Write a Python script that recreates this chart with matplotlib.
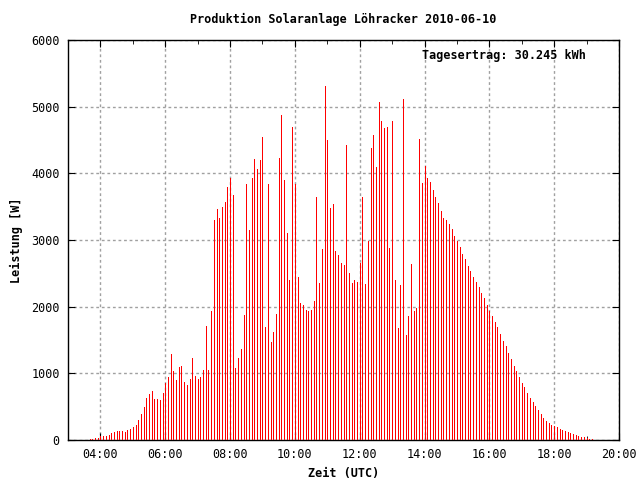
import matplotlib
matplotlib.use("Agg")
import matplotlib.pyplot as plt
import numpy as np

# 5-minute power readings, first sample at 03:40 UTC
start_hour = 3 + 40 / 60
step_hours = 5 / 60
power = [
    20, 20, 35, 35, 60, 65, 65, 80, 105, 120,
    135, 135, 135, 120, 150, 165, 195, 225, 300, 390,
    495, 630, 690, 735, 615, 615, 600, 705, 850, 945,
    1290, 1035, 900, 1095, 1110, 870, 825, 915, 1230, 960,
    915, 945, 1050, 1715, 1050, 1935, 3300, 3465, 3330, 3495,
    3570, 3795, 3930, 3675, 1080, 1230, 1365, 1875, 3840, 3150,
    3930, 4215, 4065, 4200, 4545, 1695, 3840, 1470, 1620, 1890,
    4230, 4875, 3900, 3105, 2400, 4695, 3845, 2445, 2055, 2025,
    1950, 1935, 1950, 2085, 3645, 2355, 2865, 5310, 4500, 3480,
    3540, 2835, 2775, 2655, 2625, 4425, 2505, 2355, 2400, 2370,
    2660, 3645, 2340, 2985, 4380, 4575, 4095, 5070, 4785, 4680,
    4695, 2880, 4785, 2400, 1680, 2325, 5115, 1575, 1860, 2640,
    1935, 1980, 4515, 3855, 4110, 3930, 3870, 3750, 3645, 3555,
    3435, 3330, 3300, 3240, 3165, 3060, 2985, 2895, 2790, 2715,
    2610, 2535, 2445, 2370, 2295, 2205, 2130, 2025, 1935, 1860,
    1770, 1695, 1590, 1485, 1410, 1305, 1215, 1110, 1035, 945,
    855, 795, 705, 630, 570, 510, 450, 390, 330, 285,
    255, 225, 210, 195, 165, 150, 135, 120, 105, 90,
    75, 60, 45, 45, 30, 15, 15,
]
major_hours = [4, 6, 8, 10, 12, 14, 16, 18, 20]
minor_hours = [3, 5, 7, 9, 11, 13, 15, 17, 19]
y_ticks = [0, 1000, 2000, 3000, 4000, 5000, 6000]

hours = start_hour + np.arange(len(power)) * step_hours

mono = 'DejaVu Sans Mono'
fs = 8.5

fig = plt.figure(figsize=(6.4, 4.8), dpi=100)
ax = fig.add_axes([68 / 640, 40 / 480, 551 / 640, 400 / 480])

# one-pixel impulses
ax.vlines(hours, 0, power, colors='#ff0000', linewidth=0.72, antialiased=False, zorder=3)

ax.set_xlim(3, 20)
ax.set_ylim(0, 6000)
ax.set_xticks(major_hours)
ax.set_xticklabels([f'{h:02d}:00' for h in major_hours], family=mono, fontsize=fs)
ax.set_xticks(minor_hours, minor=True)
ax.set_yticks(y_ticks)
ax.set_yticklabels([str(v) for v in y_ticks], family=mono, fontsize=fs)

ax.tick_params(which='both', direction='in', top=True, right=True, pad=6)
ax.tick_params(which='major', length=5)
ax.tick_params(which='minor', length=3)
ax.grid(True, which='major', color='#a0a0a0', linestyle=(0, (2, 2)), linewidth=1.0, zorder=1)

for s in ax.spines.values():
    s.set_linewidth(1.0)
    s.set_color('black')

ax.set_title('Produktion Solaranlage Löhracker 2010-06-10', family=mono,
             fontsize=fs, fontweight='bold', pad=12)
ax.set_xlabel('Zeit (UTC)', family=mono, fontsize=fs, fontweight='bold', labelpad=4)
ax.set_ylabel('Leistung [W]', family=mono, fontsize=fs, fontweight='bold', labelpad=6)

ax.text(0.94, 0.96, 'Tagesertrag: 30.245 kWh', transform=ax.transAxes,
        ha='right', va='center', family=mono, fontsize=fs, fontweight='bold')

fig.savefig('out.png', dpi=100)
